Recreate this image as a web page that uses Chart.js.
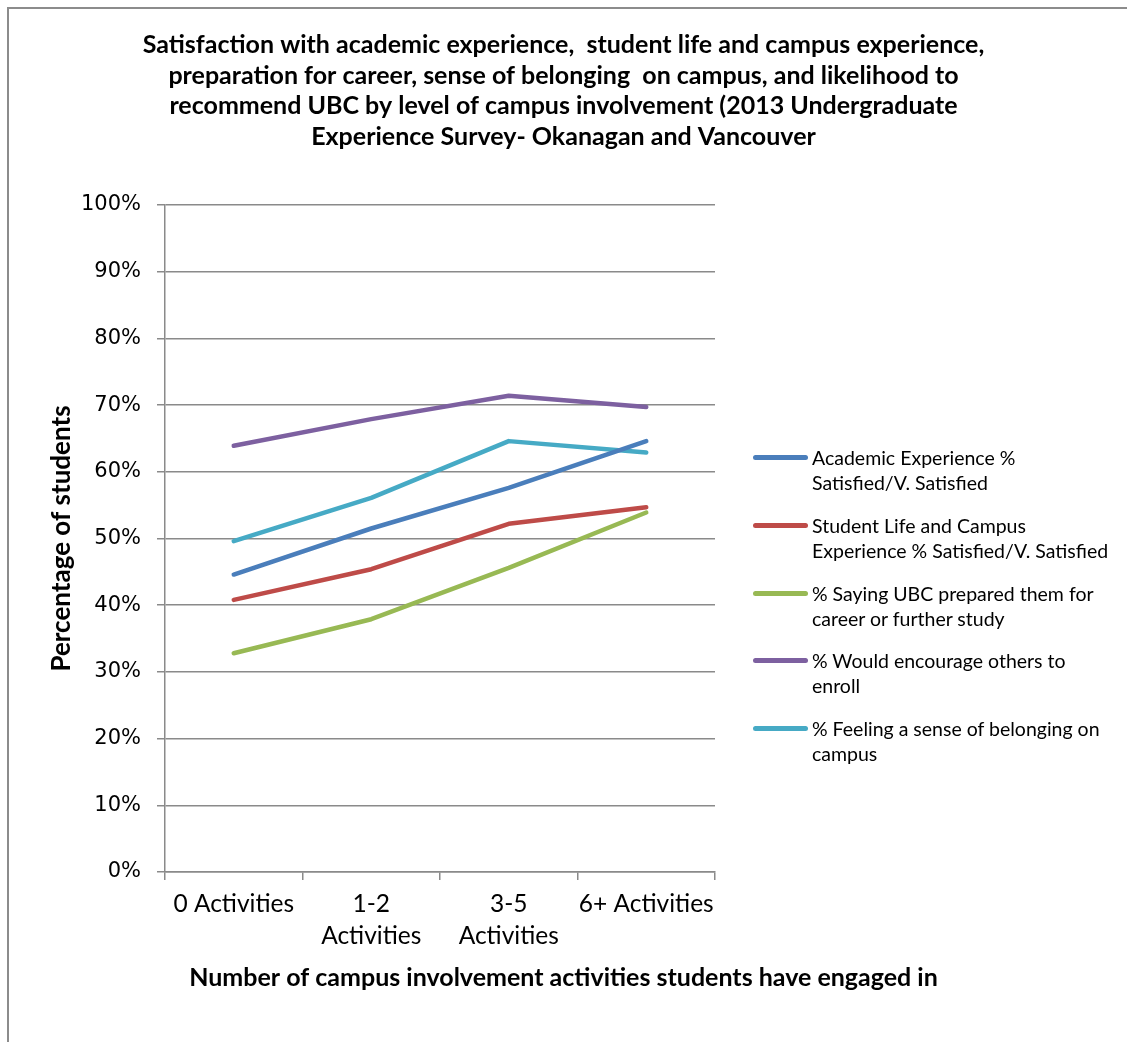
<!DOCTYPE html>
<html lang="en">
<head>
  <meta charset="UTF-8">
  <title>Campus involvement</title>
  <script src="https://cdn.jsdelivr.net/npm/chart.js"></script>
  <style>
    body { margin: 0; background: #fff; }
    .wrap { position: relative; width: 1127px; height: 1042px; overflow: hidden; }
    .frame { position: absolute; left: 7px; top: 7px; right: -10px; bottom: -10px; border-top: 2px solid #8c8c8c; border-left: 2px solid #8c8c8c; }
    canvas { position: absolute; left: 0; top: 0; }
    #legenda { position: absolute; left: 0; top: 0; font-family: Lato, sans-serif; font-size: 19.5px; color: #000; }
    .item { position: absolute; left: 753px; }
    .item .amostra { position: absolute; left: 0; top: 10px; width: 55px; height: 5px; border-radius: 3px; }
    .item .txt { position: absolute; left: 59px; top: 0; white-space: nowrap; line-height: 25px; }
  </style>
</head>
<body>
  <div class="wrap">
    <div class="frame"></div>
    <canvas id="grafico" width="1127" height="1042"></canvas>
    <div id="legenda"></div>
  </div>
<script>
  // categorias (rótulos quebrados como no original)
  const categorias = [['0 Activities'], ['1-2', 'Activities'], ['3-5', 'Activities'], ['6+ Activities']];

  // valores em %
  const academico = [44.6, 51.5, 57.6, 64.6];
  const vidaEstudantil = [40.8, 45.4, 52.2, 54.7];
  const preparados = [32.8, 37.9, 45.6, 53.9];
  const recomendariam = [63.9, 67.9, 71.4, 69.7];
  const pertencimento = [49.6, 56.1, 64.6, 62.9];

  const nomesSeries = [
    ['Academic Experience %', 'Satisfied/V. Satisfied'],
    ['Student Life and Campus', 'Experience % Satisfied/V. Satisfied'],
    ['% Saying UBC prepared them for', 'career or further study'],
    ['% Would encourage others to', 'enroll'],
    ['% Feeling a sense of belonging on', 'campus']
  ];
  const cores = ['#4a7ebb', '#be4b48', '#98b954', '#7d60a0', '#46aac5'];

  const tituloLinhas = [
    'Satisfaction with academic experience,  student life and campus experience,',
    'preparation for career, sense of belonging  on campus, and likelihood to',
    'recommend UBC by level of campus involvement (2013 Undergraduate',
    'Experience Survey- Okanagan and Vancouver'
  ];
  const tituloX = 'Number of campus involvement activities students have engaged in';
  const tituloY = 'Percentage of students';

  const corGrade = '#8a8a8a';
  const valores = [academico, vidaEstudantil, preparados, recomendariam, pertencimento];

  const ctx = document.getElementById('grafico');

  const grafico = new Chart(ctx, {
    type: 'line',
    data: {
      labels: categorias,
      datasets: valores.map((v, i) => ({
        label: nomesSeries[i].join(' '),
        data: v,
        borderColor: cores[i],
        backgroundColor: cores[i],
        borderWidth: 4.5,
        borderCapStyle: 'round',
        borderJoinStyle: 'round',
        pointRadius: 0,
        tension: 0,
        yAxisID: 'y'
      }))
    },
    options: {
      responsive: false,
      animation: false,
      devicePixelRatio: 1,
      layout: { padding: 0 },
      plugins: {
        legend: { display: false },
        tooltip: { enabled: false },
        title: {
          display: true,
          text: tituloLinhas,
          color: '#000',
          font: { family: 'Lato', size: 25, weight: 'bold', lineHeight: 30.5 / 25 },
          padding: { top: 30, bottom: 53 }
        },
        subtitle: {
          display: true,
          position: 'bottom',
          text: tituloX,
          color: '#000',
          font: { family: 'Lato', size: 25, weight: 'bold', lineHeight: 30 / 25 },
          padding: { top: 7, bottom: 49 }
        }
      },
      scales: {
        x: {
          offset: true,
          grid: { offset: true, drawOnChartArea: false, tickLength: 8, color: corGrade, lineWidth: 1.5 },
          border: { color: corGrade, width: 1.5 },
          ticks: { color: '#000', font: { family: 'Lato', size: 24.5, lineHeight: 32 / 24.5 }, padding: 8, maxRotation: 0, autoSkip: false },
          afterFit: (s) => { s.height = 84 }
        },
        y: {
          min: 0,
          max: 100,
          grid: { color: corGrade, lineWidth: 1.5, tickLength: 8 },
          border: { color: corGrade, width: 1.5 },
          ticks: {
            stepSize: 10,
            color: '#000',
            padding: 16,
            font: { family: 'DejaVu Sans', size: 21 },
            callback: (v) => v + '%'
          },
          title: {
            display: true,
            text: tituloY,
            color: '#000',
            font: { family: 'Lato', size: 26, weight: 'bold' },
            padding: { top: 46, bottom: 0 }
          },
          afterFit: (s) => { s.width = 165 }
        },
        espaco: {
          axis: 'y',
          type: 'linear',
          position: 'right',
          display: true,
          ticks: { display: false },
          grid: { display: false, drawTicks: false },
          border: { display: false },
          afterFit: (s) => { s.width = 1127 - 715 }
        }
      }
    }
  });

  // legenda em HTML (textos em duas linhas como no original)
  const legenda = document.getElementById('legenda');
  nomesSeries.forEach((linhas, i) => {
    const item = document.createElement('div');
    item.className = 'item';
    item.style.top = (445 + i * 67.8) + 'px';
    item.innerHTML = '<span class="amostra" style="background:' + cores[i] + '"></span>' +
      '<div class="txt">' + linhas.join('<br>') + '</div>';
    legenda.appendChild(item);
  });
</script>
</body>
</html>
